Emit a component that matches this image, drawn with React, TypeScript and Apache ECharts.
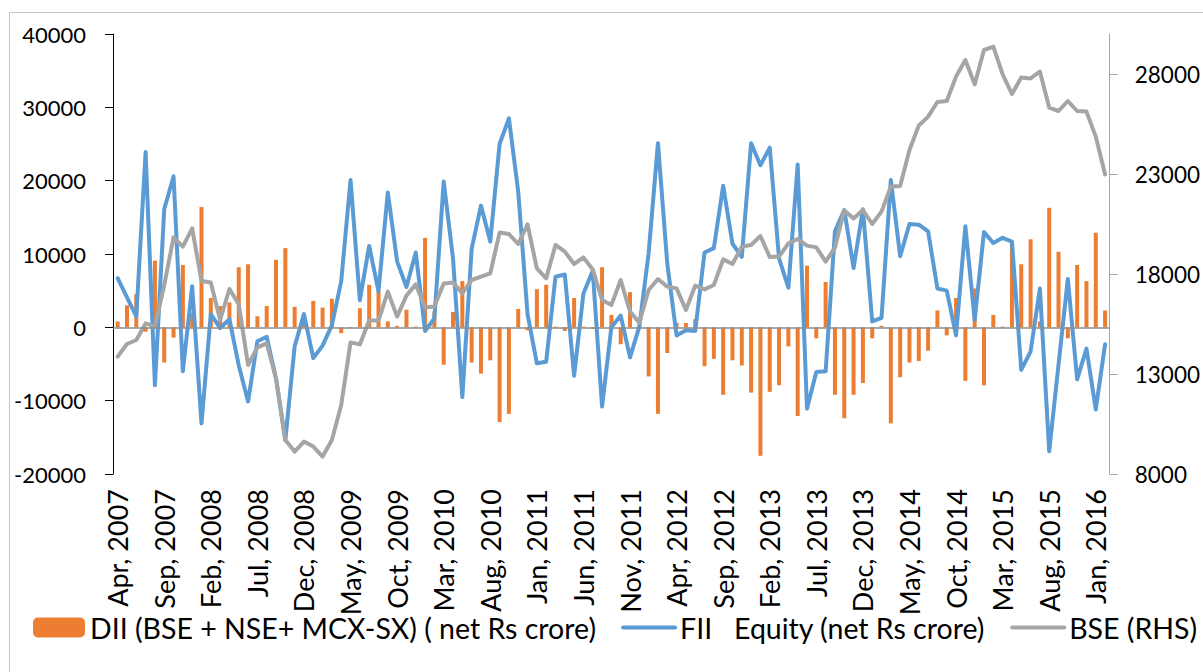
import React, { useEffect, useRef } from "react";
import * as echarts from "echarts";

const MONTHS = ["Jan", "Feb", "Mar", "Apr", "May", "Jun", "Jul", "Aug", "Sep", "Oct", "Nov", "Dec"];
const START_MONTH = 3; // Apr
const START_YEAR = 2007;
const N_MONTHS = 107; // Apr 2007 .. Feb 2016
const categories: string[] = [];
for (let k = 0; k < N_MONTHS; k++) {
  const m = (START_MONTH + k) % 12;
  const y = START_YEAR + Math.floor((START_MONTH + k) / 12);
  categories.push(`${MONTHS[m]}, ${y}`);
}

const DII = [
  800, 3000, 4500, -600, 9100, -4800, -1400, 8500, 2000, 16400,
  4000, 2900, 3400, 8200, 8600, 1500, 2900, 9200, 10800, 2800,
  600, 3600, 2700, 3900, -800, -100, 2600, 5800, 4900, 800,
  200, 2400, 100, 12200, 2200, -5100, 2100, 6300, -4800, -6300,
  -4500, -12900, -11800, 2500, -400, 5200, 5800, 100, -500, 4000,
  100, -200, 8200, 1700, -2300, 4800, 200, -6700, -11800, -3500,
  600, 600, 1100, -5300, -4300, -9200, -4500, -5200, -8900, -17500,
  -8800, -7900, -2600, -12100, 8400, -1500, 6200, -9200, -12400, -9200,
  -7600, -1500, 200, -13100, -6800, -4800, -4600, -3200, 2300, -1100,
  4000, -7300, 5300, -7900, 1700, 100, 11800, 8600, 12000, 800,
  16300, 10300, -1500, 8500, 6300, 12900, 2300,
];

const FII = [
  6700, 4100, 1500, 23900, -7900, 16100, 20600, -6000, 5600, -13100,
  1800, -100, 1100, -5200, -10100, -1900, -1300, -7000, -15400, -2600,
  1800, -4200, -2500, 300, 6300, 20100, 3700, 11100, 4900, 18400,
  9000, 5500, 10200, -500, 1200, 19900, 9400, -9500, 10700, 16600,
  11700, 25000, 28500, 18500, 1800, -4900, -4700, 6900, 7200, -6600,
  4600, 7700, -10800, 0, 1600, -4100, 100, 10100, 25100, 8700,
  -1100, -400, -500, 10200, 10800, 19300, 11400, 9600, 25100, 22100,
  24500, 9400, 5400, 22200, -11100, -6100, -6000, 13100, 16000, 8100,
  16100, 800, 1300, 20100, 9700, 14100, 14000, 13100, 5300, 5000,
  -1100, 13800, 1000, 13000, 11500, 12200, 11700, -5800, -3300, 5300,
  -16900, -5100, 6600, -7100, -2900, -11200, -2300,
];

const BSE = [
  13870, 14500, 14700, 15530, 15370, 17450, 19830, 19370, 20280, 17650,
  17580, 15700, 17250, 16480, 13450, 14330, 14530, 12780, 9700, 9120,
  9620, 9370, 8870, 9700, 11450, 14580, 14480, 15670, 15670, 17120,
  15870, 16920, 17480, 16320, 16370, 17530, 17580, 17030, 17700, 17870,
  18030, 20070, 20000, 19500, 20480, 18280, 17780, 19450, 19120, 18500,
  18830, 18230, 16700, 16450, 17700, 16120, 15570, 17200, 17750, 17370,
  17280, 16200, 17420, 17230, 17450, 18730, 18500, 19370, 19450, 19900,
  18850, 18870, 19530, 19750, 19420, 19330, 18620, 19320, 21170, 20780,
  21200, 20500, 21120, 22370, 22400, 24200, 25420, 25870, 26600, 26650,
  27870, 28700, 27480, 29200, 29370, 27980, 27000, 27820, 27780, 28120,
  26320, 26150, 26650, 26150, 26120, 24870, 22980,
];

const LEFT_TICKS = [-20000, -10000, 0, 10000, 20000, 30000, 40000];
const RIGHT_TICKS = [8000, 13000, 18000, 23000, 28000];

const SERIES_NAMES = [
  "DII (BSE + NSE+ MCX-SX) ( net Rs crore)",
  "FII   Equity (net Rs crore)",
  "BSE (RHS)",
];

const FONT = "Lato";

export default function App() {
  const ref = useRef<HTMLDivElement>(null);
  useEffect(() => {
    if (!ref.current) return;
    const chart = echarts.init(ref.current, null, { renderer: "svg" });
    chart.setOption({
      animation: false,
      backgroundColor: "#ffffff",
      textStyle: { fontFamily: FONT },
      graphic: [
        {
          type: "rect",
          shape: { x: 9.5, y: 12.5, width: 1400, height: 1000 },
          style: { fill: "none", stroke: "#C4C4C4", lineWidth: 1 },
          silent: true,
          z: -1,
        },
      ],
      grid: { left: 113, right: 87, top: 34, bottom: 198, containLabel: false },
      legend: {
        left: 33,
        top: 613,
        width: 1200,
        padding: 0,
        itemWidth: 52,
        itemHeight: 20,
        itemGap: 25,
        lineStyle: { width: 4 },
        data: [
          { name: SERIES_NAMES[0] },
          { name: SERIES_NAMES[1], itemStyle: { opacity: 0 }, lineStyle: { width: 4 } },
          { name: SERIES_NAMES[2], itemStyle: { opacity: 0 }, lineStyle: { width: 4 } },
        ],
        textStyle: { fontSize: 28.5, fontFamily: FONT, color: "#000" },
      },
      xAxis: {
        type: "category",
        data: categories,
        boundaryGap: true,
        axisLine: { show: false, onZero: false },
        axisTick: { show: false },
        splitLine: { show: false },
        axisLabel: {
          interval: 4,
          rotate: 90,
          fontSize: 27,
          fontFamily: FONT,
          color: "#000",
          margin: 15,
        },
      },
      yAxis: [
        {
          type: "value",
          min: LEFT_TICKS[0],
          max: LEFT_TICKS[LEFT_TICKS.length - 1],
          interval: 10000,
          axisLine: { show: true, lineStyle: { color: "#000", width: 1 } },
          axisTick: { show: true, length: 8, lineStyle: { color: "#000" } },
          splitLine: { show: false },
          axisLabel: {
            fontSize: 22,
            fontFamily: FONT,
            color: "#000",
            margin: 27,
            formatter: (v: number) => String(v),
          },
        },
        {
          type: "value",
          position: "right",
          min: 8000,
          max: 30000,
          interval: 5000,
          axisLine: { show: true, lineStyle: { color: "#A6A6A6", width: 1 } },
          axisTick: {
            show: true,
            length: 8,
            lineStyle: { color: "#A6A6A6" },
            customValues: RIGHT_TICKS,
          },
          splitLine: { show: false },
          axisLabel: {
            customValues: RIGHT_TICKS,
            fontSize: 22.5,
            fontFamily: FONT,
            color: "#000",
            margin: 25,
            formatter: (v: number) => (RIGHT_TICKS.includes(v) ? String(v) : ""),
          },
        },
      ],
      series: [
        {
          name: SERIES_NAMES[0],
          type: "bar",
          data: DII,
          yAxisIndex: 0,
          barWidth: 4,
          itemStyle: { color: "#ED7D31" },
          markLine: {
            silent: true,
            symbol: ["none", "none"],
            label: { show: false },
            lineStyle: { color: "#8C8C8C", width: 1.5, type: "solid" },
            data: [{ yAxis: 0 }],
          },
        },
        {
          name: SERIES_NAMES[1],
          type: "line",
          data: FII,
          yAxisIndex: 0,
          symbol: "none",
          lineStyle: { color: "#5B9BD5", width: 4, cap: "round", join: "round" },
          itemStyle: { color: "#5B9BD5" },
        },
        {
          name: SERIES_NAMES[2],
          type: "line",
          data: BSE,
          yAxisIndex: 1,
          symbol: "none",
          lineStyle: { color: "#A5A5A5", width: 4, cap: "round", join: "round" },
          itemStyle: { color: "#A5A5A5" },
        },
      ],
    });
    return () => chart.dispose();
  }, []);
  return (
    <div
      ref={ref}
      style={{ position: "fixed", left: 0, top: 0, width: 1203, height: 672, background: "#fff" }}
    />
  );
}
